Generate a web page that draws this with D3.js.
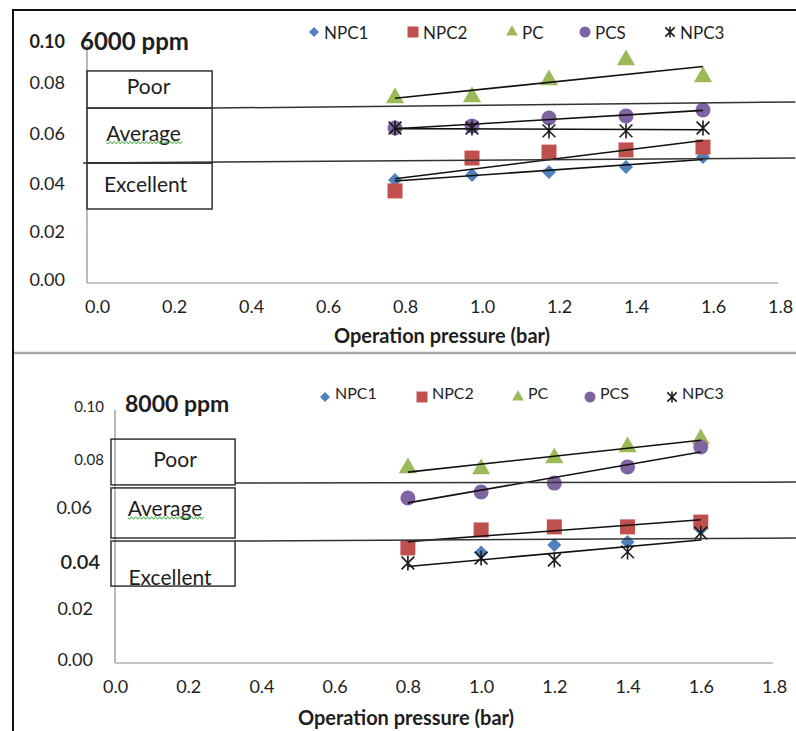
<!DOCTYPE html>
<html>
<head>
<meta charset="utf-8">
<script src="https://cdn.jsdelivr.net/npm/d3@7"></script>
<style>
  body { margin: 0; background: #fff; }
  svg text { font-family: Lato, 'Open Sans', sans-serif; fill: #1e1e1e; }
</style>
</head>
<body>
<div id="myDiv"></div>
<script>
//--------------------------------------------------
// Data
//--------------------------------------------------
var seriesNames = ['NPC1', 'NPC2', 'PC', 'PCS', 'NPC3'];
var pressures = [0.8, 1.0, 1.2, 1.4, 1.6];
var xTicks = [0, 0.2, 0.4, 0.6, 0.8, 1.0, 1.2, 1.4, 1.6, 1.8];
var yTicks = [0, 0.02, 0.04, 0.06, 0.08, 0.10];
var zoneNames = ['Poor', 'Average', 'Excellent'];

// 6000 ppm
var npc1_6000 = [0.0433, 0.0454, 0.0466, 0.0487, 0.0529];
var npc2_6000 = [0.0387, 0.0525, 0.0550, 0.0559, 0.0571];
var pc_6000   = [0.0777, 0.0782, 0.0853, 0.0937, 0.0866];
var pcs_6000  = [0.0651, 0.0660, 0.0693, 0.0702, 0.0727];
var npc3_6000 = [0.0651, 0.0651, 0.0639, 0.0639, 0.0651];

// 8000 ppm
var npc1_8000 = [0.0455, 0.0437, 0.0466, 0.0478, 0.0530];
var npc2_8000 = [0.0455, 0.0526, 0.0538, 0.0538, 0.0557];
var pc_8000   = [0.0771, 0.0767, 0.0810, 0.0854, 0.0885];
var pcs_8000  = [0.0652, 0.0676, 0.0711, 0.0775, 0.0854];
var npc3_8000 = [0.0395, 0.0415, 0.0407, 0.0439, 0.0514];

//--------------------------------------------------
// Styling
//--------------------------------------------------
var seriesColors = ['#4F81BD', '#C0504D', '#9BBB59', '#8064A2', '#1c1c1c'];
var axisColor = '#8c8c8c';
var shapeColor = '#333333';

var panels = [
  {
    title: '6000 ppm', titleX: 80, titleY: 40, titleSize: 24,
    series: [npc1_6000, npc2_6000, pc_6000, pcs_6000, npc3_6000],
    trends: [0, 1, 2, 3, 4],
    xRange: [87, 780], yRange: [283, 45], xEnd: 1.795,
    labelShift: [10, -5], lastLabelDx: -10,
    yTickStyle: [{}, {}, {}, {dy: -3}, {dy: -6}, {weight: 700}],
    axisTitleX: 442, axisTitleY: 335,
    legendY: 32, legendTextDy: 0, legendSize: 17,
    legendX: [314, 413, 512, 585, 670],
    zoneX: [0, 0.325],
    zones: [[0.0891, 0.0735], [0.0735, 0.0504], [0.0504, 0.0311]],
    zoneLabel: [[-1, -4], [-6, -3], [-4, -3]],
    lines: [[0.325, 0.0735, 1.84, 0.0761], [-0.01, 0.0504, 1.84, 0.0525]]
  },
  {
    title: '8000 ppm', titleX: 125, titleY: 403, titleSize: 23,
    series: [npc1_8000, npc2_8000, pc_8000, pcs_8000, npc3_8000],
    trends: [1, 2, 3, 4],
    xRange: [115, 774], yRange: [663, 410], xEnd: 1.797,
    labelShift: [0, -5], lastLabelDx: 0,
    yTickStyle: [{}, {}, {dx: 7, dy: 4, size: 20, weight: 600}, {dx: -1}, {dx: 11, dy: 3, size: 15}, {dx: 11, size: 15}],
    axisTitleX: 406, axisTitleY: 717,
    legendY: 397, legendTextDy: -5, legendSize: 16,
    legendX: [325, 422, 518, 590, 672],
    zoneX: [-0.011, 0.328],
    zones: [[0.0885, 0.0704], [0.0692, 0.0494], [0.0482, 0.0304]],
    zoneLabel: [[2, -3], [-8, -5], [-3, 13]],
    lines: [[0.328, 0.0711, 1.86, 0.0715], [0.328, 0.0482, 1.86, 0.0494]]
  }
];

var svg = d3.select('#myDiv')
  .append('svg')
    .attr('width', 796)
    .attr('height', 731);

// frame around the two pasted charts
svg.append('line').attr('x1', 13).attr('x2', 13).attr('y1', 9).attr('y2', 731)
  .attr('stroke', '#111').attr('stroke-width', 2);
svg.append('line').attr('x1', 12).attr('x2', 796).attr('y1', 10).attr('y2', 10)
  .attr('stroke', '#111').attr('stroke-width', 2);
svg.append('line').attr('x1', 14).attr('x2', 796).attr('y1', 353).attr('y2', 353)
  .attr('stroke', '#a8a8a8').attr('stroke-width', 2.5);

// marker shapes, Excel style
function markerPath(i, s) {
  var r = s / 2;
  if (i === 0) return 'M0,' + (-r) + 'L' + r + ',0L0,' + r + 'L' + (-r) + ',0Z';
  if (i === 1) return 'M' + (-r) + ',' + (-r) + 'H' + r + 'V' + r + 'H' + (-r) + 'Z';
  if (i === 2) return d3.symbol(d3.symbolTriangle, s * s * 0.5)();
  if (i === 3) return d3.symbol(d3.symbolCircle, Math.PI * r * r)();
  var a = r * 0.85;
  return 'M' + (-a) + ',' + (-a) + 'L' + a + ',' + a +
    'M' + (-a) + ',' + a + 'L' + a + ',' + (-a) +
    'M0,' + (-r) + 'V' + r;
}

function drawMarker(g, i, x, y, s) {
  var p = g.append('path')
    .attr('transform', 'translate(' + x + ',' + y + ')')
    .attr('d', markerPath(i, s));
  if (i === 4) {
    p.attr('fill', 'none').attr('stroke', seriesColors[i]).attr('stroke-width', 1.6);
  } else {
    p.attr('fill', seriesColors[i]);
  }
}

function linearFit(xs, ys) {
  var mx = d3.mean(xs), my = d3.mean(ys);
  var num = d3.sum(xs, function (x, k) { return (x - mx) * (ys[k] - my); });
  var den = d3.sum(xs, function (x) { return (x - mx) * (x - mx); });
  var b = num / den;
  return function (x) { return my + b * (x - mx); };
}

function wavy(g, x0, x1, y) {
  var d = 'M' + x0 + ',' + y;
  for (var x = x0, k = 0; x < x1; x += 2, k++) {
    d += 'L' + (x + 2) + ',' + (y + (k % 2 ? -1.3 : 1.3));
  }
  g.append('path').attr('d', d).attr('fill', 'none')
    .attr('stroke', '#3fae3f').attr('stroke-width', 1);
}

panels.forEach(function (p) {
  var x = d3.scaleLinear().domain([0, 1.8]).range(p.xRange);
  var y = d3.scaleLinear().domain([0, 0.1]).range(p.yRange);
  var g = svg.append('g');

  // axis lines
  g.append('line')
    .attr('x1', x(0)).attr('x2', x(p.xEnd)).attr('y1', y(0)).attr('y2', y(0))
    .attr('stroke', axisColor).attr('stroke-width', 1.2);
  g.append('line')
    .attr('x1', x(0)).attr('x2', x(0)).attr('y1', y(0)).attr('y2', y(0.1))
    .attr('stroke', axisColor).attr('stroke-width', 1.2);

  // tick labels
  var xAxis = g.append('g')
    .attr('transform', 'translate(' + p.labelShift[0] + ',' + y(0) + ')')
    .call(d3.axisBottom(x).tickValues(xTicks).tickSize(0).tickFormat(d3.format('.1f')));
  xAxis.select('.domain').remove();
  xAxis.selectAll('text')
    .attr('y', 24).attr('dy', '0.35em')
    .attr('x', function (d, k) { return k === xTicks.length - 1 ? p.lastLabelDx : 0; })
    .style('font-size', '18px').style('font-family', 'Lato, sans-serif').attr('fill', '#1e1e1e');

  var yAxis = g.append('g')
    .attr('transform', 'translate(' + x(0) + ',' + p.labelShift[1] + ')')
    .call(d3.axisLeft(y).tickValues(yTicks).tickSize(0).tickPadding(22).tickFormat(d3.format('.2f')));
  yAxis.select('.domain').remove();
  yAxis.selectAll('text').each(function (d, k) {
    var st = p.yTickStyle[k] || {};
    d3.select(this)
      .attr('x', -22 + (st.dx || 0))
      .attr('dy', (st.dy || 0) + 'px')
      .attr('dominant-baseline', 'central')
      .attr('fill', '#1e1e1e')
      .style('font-size', (st.size || 18) + 'px')
      .style('font-weight', st.weight || 400)
      .style('font-family', 'Lato, sans-serif');
  });

  // data markers
  p.series.forEach(function (vals, i) {
    vals.forEach(function (v, k) {
      drawMarker(g, i, x(pressures[k]), y(v), i === 0 ? 14 : (i === 2 ? 17 : 15));
    });
  });

  // linear trendlines
  p.trends.forEach(function (i) {
    var f = linearFit(pressures, p.series[i]);
    g.append('line')
      .attr('x1', x(pressures[0])).attr('y1', y(f(pressures[0])))
      .attr('x2', x(pressures[4])).attr('y2', y(f(pressures[4])))
      .attr('stroke', '#111').attr('stroke-width', 1.6);
  });

  // quality zone boxes and threshold lines
  p.zones.forEach(function (z, k) {
    g.append('rect')
      .attr('x', x(p.zoneX[0])).attr('y', y(z[0]))
      .attr('width', x(p.zoneX[1]) - x(p.zoneX[0]))
      .attr('height', y(z[1]) - y(z[0]))
      .attr('fill', 'none').attr('stroke', shapeColor).attr('stroke-width', 1.5);
    var cx = (x(p.zoneX[0]) + x(p.zoneX[1])) / 2 + p.zoneLabel[k][0];
    var cy = (y(z[0]) + y(z[1])) / 2 + p.zoneLabel[k][1];
    var t = g.append('text')
      .attr('x', cx).attr('y', cy)
      .attr('text-anchor', 'middle').attr('dominant-baseline', 'central')
      .style('font-size', '21px')
      .text(zoneNames[k]);
    if (k === 1) {
      var w = t.node().getComputedTextLength();
      wavy(g, cx - w / 2, cx + w / 2, cy + 10);
    }
  });
  p.lines.forEach(function (l) {
    g.append('line')
      .attr('x1', x(l[0])).attr('y1', y(l[1]))
      .attr('x2', x(l[2])).attr('y2', y(l[3]))
      .attr('stroke', shapeColor).attr('stroke-width', 1.5);
  });

  // title
  g.append('text')
    .attr('x', p.titleX).attr('y', p.titleY)
    .attr('dominant-baseline', 'central')
    .style('font-size', p.titleSize + 'px').style('font-weight', 700)
    .text(p.title);

  // legend
  seriesNames.forEach(function (name, i) {
    drawMarker(g, i, p.legendX[i], p.legendY, i === 0 ? 10 : 11);
    g.append('text')
      .attr('x', p.legendX[i] + 10).attr('y', p.legendY + p.legendTextDy)
      .attr('dominant-baseline', 'central')
      .style('font-size', p.legendSize + 'px')
      .text(name);
  });

  // axis title
  g.append('text')
    .attr('x', p.axisTitleX).attr('y', p.axisTitleY)
    .attr('text-anchor', 'middle').attr('dominant-baseline', 'central')
    .style('font-size', '20px').style('font-weight', 700)
    .text('Operation pressure (bar)');
});
</script>
</body>
</html>
